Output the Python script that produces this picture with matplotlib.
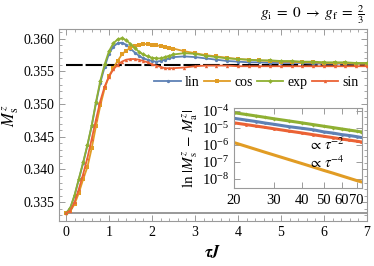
import matplotlib
matplotlib.use("Agg")
import matplotlib.pyplot as plt
from matplotlib.ticker import MultipleLocator, FixedLocator, NullFormatter, ScalarFormatter, LogLocator

# ---------- Style ----------
plt.rcParams['font.family'] = ['Liberation Serif', 'DejaVu Serif']
plt.rcParams['mathtext.fontset'] = 'stix'
plt.rcParams['font.size'] = 10

BLUE = "#5E81B5"
ORANGE = "#E19C24"
GREEN = "#8FB032"
RED = "#EB6235"
FRAME = "#9a9a9a"

# ---------- Data ----------
t = [0.0, 0.1, 0.2, 0.3, 0.4, 0.5, 0.6, 0.7, 0.8, 0.9,
     1.0, 1.1, 1.2, 1.3, 1.4, 1.5, 1.6, 1.7, 1.8, 1.9,
     2.0, 2.1, 2.2, 2.3, 2.4, 2.5, 2.75, 3.0, 3.25, 3.5,
     3.75, 4.0, 4.25, 4.5, 4.75, 5.0, 5.25, 5.5, 5.75, 6.0,
     6.25, 6.5, 6.75, 7.0]

m_exp = [0.3333, 0.3341, 0.3361, 0.3386, 0.3411, 0.3438, 0.3468, 0.3504, 0.3536, 0.3561,
         0.3581, 0.3593, 0.3599, 0.3601, 0.3598, 0.3592, 0.3586, 0.3580, 0.3576, 0.3573,
         0.3571, 0.3570, 0.3570, 0.3572, 0.3574, 0.3576, 0.3578, 0.3577, 0.3574, 0.3572,
         0.3570, 0.3569, 0.3568, 0.3567, 0.3567, 0.3566, 0.3566, 0.3565, 0.3565, 0.3564,
         0.3564, 0.3564, 0.3563, 0.3563]

m_lin = [0.3333, 0.3341, 0.3360, 0.3385, 0.3410, 0.3437, 0.3467, 0.3502, 0.3533, 0.3557,
         0.3577, 0.3588, 0.3593, 0.3594, 0.3591, 0.3585, 0.3579, 0.3574, 0.3570, 0.3568,
         0.3566, 0.3565, 0.3566, 0.3568, 0.3570, 0.3572, 0.3573, 0.3572, 0.3570, 0.3568,
         0.3566, 0.3565, 0.3564, 0.3564, 0.3563, 0.3563, 0.3563, 0.3563, 0.3562, 0.3562,
         0.3562, 0.3562, 0.3562, 0.3562]

m_cos = [0.3333, 0.3336, 0.3347, 0.3364, 0.3385, 0.3404, 0.3433, 0.3467, 0.3498, 0.3524,
         0.3543, 0.3555, 0.3566, 0.3576, 0.3582, 0.3586, 0.3589, 0.3591, 0.3592, 0.3592,
         0.3591, 0.3590, 0.3589, 0.3588, 0.3586, 0.3585, 0.3581, 0.3578, 0.3575, 0.3573,
         0.3571, 0.3569, 0.3568, 0.3567, 0.3566, 0.3565, 0.3565, 0.3564, 0.3564, 0.3563,
         0.3563, 0.3563, 0.3562, 0.3562]

m_sin = [0.3333, 0.3337, 0.3350, 0.3370, 0.3393, 0.3418, 0.3447, 0.3477, 0.3505, 0.3527,
         0.3542, 0.3553, 0.3560, 0.3565, 0.3568, 0.3569, 0.3569, 0.3568, 0.3566, 0.3564,
         0.3561, 0.3559, 0.3557, 0.3555, 0.3555, 0.3555, 0.3556, 0.3558, 0.3559, 0.3559,
         0.3559, 0.3558, 0.3558, 0.3558, 0.3558, 0.3558, 0.3558, 0.3558, 0.3558, 0.3558,
         0.3558, 0.3558, 0.3558, 0.3558]

m_initial = 1 / 3      # grey line
m_asym = 0.356         # black dashed line

# inset: |M_s - M_a| vs tau (log-log)
tau_in = [20, 22.5, 25, 27.5, 30, 35, 40, 45, 50, 55, 60, 65, 70, 73]
d_exp = [7.9e-5, 6.3e-5, 5.1e-5, 4.2e-5, 3.5e-5, 2.6e-5, 2.0e-5, 1.57e-5, 1.27e-5,
         1.05e-5, 8.8e-6, 7.5e-6, 6.5e-6, 5.95e-6]
d_lin = [3.7e-5, 2.95e-5, 2.4e-5, 1.95e-5, 1.65e-5, 1.2e-5, 9.6e-6, 7.8e-6, 5.9e-6,
         5.0e-6, 4.1e-6, 3.6e-6, 3.1e-6, 2.8e-6]
d_sin = [2.0e-5, 1.6e-5, 1.3e-5, 1.08e-5, 9.0e-6, 6.6e-6, 5.1e-6, 4.0e-6, 3.25e-6,
         2.7e-6, 2.25e-6, 1.93e-6, 1.67e-6, 1.53e-6]
d_cos = [1.38e-6, 8.5e-7, 5.5e-7, 3.7e-7, 2.6e-7, 1.39e-7, 8.1e-8, 5.0e-8, 3.2e-8,
         2.2e-8, 1.53e-8, 1.1e-8, 8.1e-9, 6.9e-9]

series = [
    ("lin", m_lin, BLUE, "o"),
    ("cos", m_cos, ORANGE, "s"),
    ("exp", m_exp, GREEN, "D"),
    ("sin", m_sin, RED, "^"),
]


def frame_style(ax):
    for sp in ax.spines.values():
        sp.set_color(FRAME)
        sp.set_linewidth(0.8)
    ax.tick_params(which="both", direction="in", colors=FRAME, labelcolor="black",
                   top=True, right=True)
    ax.tick_params(which="major", length=4, width=0.7)
    ax.tick_params(which="minor", length=2, width=0.6)


# ---------- Main axes ----------
fig = plt.figure(figsize=(3.74, 2.66), dpi=100)
ax = fig.add_axes([0.158, 0.169, 0.823, 0.722])

ax.plot([0, 7], [m_initial, m_initial], color="#999999", lw=1.4, zorder=1)
ax.plot([0, 7], [m_asym, m_asym], color="black", lw=1.5, dashes=(8, 1.4), zorder=1)

for name, vals, col, mk in series:
    ax.plot(t, vals, color=col, lw=1.3, marker=mk, ms=2.4, mew=0, label=name, zorder=3)

ax.set_xlim(-0.16, 7.0)
ax.set_ylim(0.3321, 0.3615)
ax.xaxis.set_major_locator(MultipleLocator(1))
ax.xaxis.set_minor_locator(MultipleLocator(0.2))
ax.yaxis.set_major_locator(MultipleLocator(0.005))
ax.yaxis.set_minor_locator(MultipleLocator(0.001))
ax.yaxis.set_major_formatter(matplotlib.ticker.FormatStrFormatter("%.3f"))
frame_style(ax)

ax.set_xlabel(r"$\boldsymbol{\tau J}$", fontsize=12, labelpad=4)
ax.set_ylabel(r"$\boldsymbol{M_\mathrm{s}^z}$", fontsize=12)
ax.yaxis.set_label_coords(-0.125, 0.55)

ax.legend(loc="center right", bbox_to_anchor=(1.0, 0.72), ncol=4, frameon=False,
          handlelength=1.9, handletextpad=0.3, columnspacing=0.3, fontsize=10,
          borderaxespad=0.2)

fig.text(0.975, 0.946, r"$g_\mathrm{i}\;=\;0\;\to\;g_\mathrm{f}\;=\;\frac{2}{3}$",
         ha="right", va="center", fontsize=11)

# ---------- Inset ----------
axi = fig.add_axes([0.626, 0.292, 0.341, 0.301])
inset_series = [(d_lin, BLUE, "o"), (d_cos, ORANGE, "s"), (d_exp, GREEN, "D"), (d_sin, RED, "^")]
for vals, col, mk in inset_series:
    axi.plot(tau_in, vals, color=col, lw=2.2, marker=mk, ms=2, mew=0)

axi.set_xscale("log")
axi.set_yscale("log")
axi.set_xlim(20, 73.7)
axi.set_ylim(10 ** -8.55, 10 ** -3.84)
axi.xaxis.set_major_locator(FixedLocator([20, 30, 40, 50, 60, 70]))
axi.xaxis.set_major_formatter(ScalarFormatter())
axi.xaxis.set_minor_locator(FixedLocator([]))
axi.xaxis.set_minor_formatter(NullFormatter())
axi.yaxis.set_major_locator(LogLocator(base=10, numticks=10))
axi.yaxis.set_minor_locator(FixedLocator([]))
frame_style(axi)
axi.tick_params(axis="x", pad=4, labelsize=10.5)
axi.tick_params(axis="y", labelsize=10.5)

axi.set_ylabel(r"$\ln\,|M_\mathrm{s}^z\,-\,M_\mathrm{a}^z|$", fontsize=11, labelpad=1)

axi.text(42.4, 1.1e-6, r"$\propto\,\tau^{-2}$", ha="left", va="center", fontsize=10.5)
axi.text(42.4, 9e-8, r"$\propto\,\tau^{-4}$", ha="left", va="center", fontsize=10.5)

fig.savefig("out.png", dpi=100)
